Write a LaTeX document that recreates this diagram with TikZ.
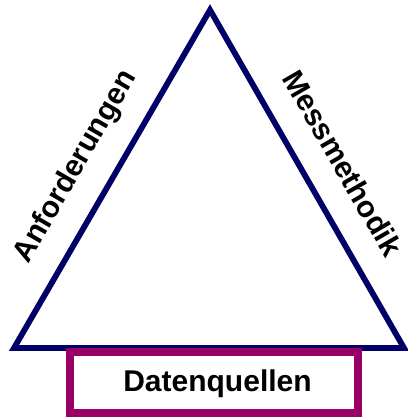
\documentclass[tikz,border=0pt]{standalone}
\usepackage{fontspec}
\setmainfont{Liberation Sans}
\usepackage{tikz}
\usetikzlibrary{calc}

\definecolor{navy}{RGB}{0,0,102}
\definecolor{plum}{RGB}{153,0,102}

\tikzset{
  side/.style={navy, line width=5.8pt, line join=miter},
  sidetext/.style={inner sep=0pt, font=\bfseries\fontsize{30}{36}\selectfont}
}

\begin{document}
\begin{tikzpicture}[x=1pt, y=1pt]
\useasboundingbox (0,0) rectangle (407,417);

\coordinate (T) at (210,407);
\coordinate (L) at (14,69);
\coordinate (R) at (404,69);

\draw[side] (L)--(T)--(R)--cycle;

\coordinate (Q1) at (70,4);
\coordinate (Q2) at (358,65);
\draw[plum, line width=8pt] (Q1) rectangle (Q2);

\node[sidetext, rotate=60] (anf) at (76,250) {Anforderungen};
\node[sidetext, rotate=-60] (mess) at (343,254) {Messmethodik};
\node[sidetext, anchor=base] (daten) at (217.5,25) {Datenquellen};

\end{tikzpicture}
\end{document}
